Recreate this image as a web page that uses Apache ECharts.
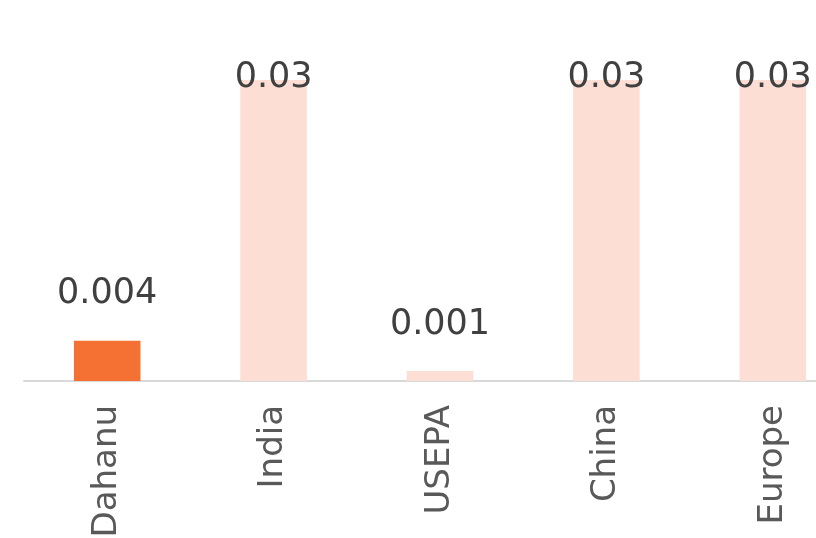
<!DOCTYPE html>
<html>
<head>
<meta charset="utf-8">
<script src="https://cdn.jsdelivr.net/npm/echarts@6/dist/echarts.min.js"></script>
<style>html,body{margin:0;padding:0;background:#fff;overflow:hidden;width:816px;height:538px;}#c{width:856px;height:538px;}</style>
</head>
<body>
<div id="c"></div>
<script>
const categories = ['Dahanu', 'India', 'USEPA', 'China', 'Europe'];
const values = [0.004, 0.03, 0.001, 0.03, 0.03];
const valueLabels = ['0.004', '0.03', '0.001', '0.03', '0.03'];
const highlightColor = '#F47133';
const baseColor = '#FCDED4';
const yMax = 0.03;

const chart = echarts.init(document.getElementById('c'), null, {renderer: 'canvas'});
const data = values.map((v, i) => ({
  value: v,
  itemStyle: {color: i === 0 ? highlightColor : baseColor},
  label: {distance: v >= yMax ? -15 : 29}
}));
chart.setOption({
  animation: false,
  grid: {left: 24, right: 0, top: 80, bottom: 157, containLabel: false, outerBoundsMode: 'none'},
  xAxis: {
    type: 'category',
    data: categories,
    axisLine: {lineStyle: {color: '#D9D9D9', width: 2}},
    axisTick: {show: false},
    axisLabel: {rotate: 90, margin: 24, fontSize: 34, color: '#595959', fontFamily: 'DejaVu Sans', interval: 0}
  },
  yAxis: {type: 'value', min: 0, max: yMax, show: false},
  series: [{
    type: 'bar',
    data: data,
    barWidth: '40%',
    label: {
      show: true,
      position: 'top',
      fontSize: 35,
      color: '#404040',
      fontFamily: 'DejaVu Sans',
      formatter: p => valueLabels[p.dataIndex]
    }
  }]
});
</script>
</body>
</html>
